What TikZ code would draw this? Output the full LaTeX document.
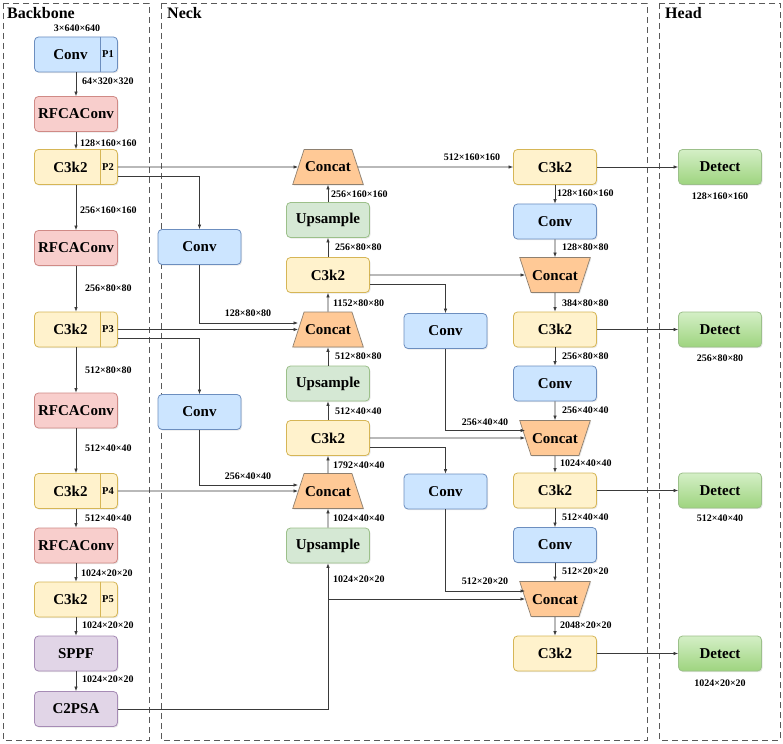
\documentclass[tikz,border=0pt]{standalone}
\usepackage{fontspec}
\setmainfont{Liberation Serif}
\usepackage{tikz}
\usetikzlibrary{arrows.meta,shapes.geometric,shadows}

\definecolor{convfill}{HTML}{CCE5FF}
\definecolor{convline}{HTML}{6C8EBF}
\definecolor{rffill}{HTML}{F8CECC}
\definecolor{rfline}{HTML}{D08A86}
\definecolor{cfill}{HTML}{FFF2CC}
\definecolor{cline}{HTML}{D6B656}
\definecolor{upfill}{HTML}{D5E8D4}
\definecolor{upline}{HTML}{9CC08A}
\definecolor{spfill}{HTML}{E1D5E7}
\definecolor{spline}{HTML}{A68BB5}
\definecolor{catfill}{HTML}{FFC996}
\definecolor{catline}{HTML}{8E8070}
\definecolor{detfill}{HTML}{9ED47F}
\definecolor{detlight}{HTML}{D4EFC6}
\definecolor{wire}{HTML}{3A3A3A}

\begin{document}
\begin{tikzpicture}[x=1pt,y=-1pt,
    shd/.style={drop shadow={shadow xshift=1pt,shadow yshift=-1.2pt,opacity=0.18}},
    blk/.style={shd,rounded corners=4pt,minimum width=83pt,minimum height=35pt,inner sep=0pt,
      line width=0.8pt,font=\fontsize{15}{17}\selectfont\bfseries},
    conv/.style={blk,fill=convfill,draw=convline},
    rfca/.style={blk,fill=rffill,draw=rfline},
    c3/.style={blk,fill=cfill,draw=cline},
    upsm/.style={blk,fill=upfill,draw=upline},
    sppf/.style={blk,fill=spfill,draw=spline},
    det/.style={blk,draw=upline,top color=detlight,bottom color=detfill},
    cat/.style={shd,trapezium,trapezium left angle=72,trapezium right angle=72,
      text height=10pt,text depth=0pt,inner xsep=1pt,inner ysep=12.5pt,
      fill=catfill,draw=catline,line width=0.7pt,font=\fontsize{15}{17}\selectfont\bfseries},
    catinv/.style={cat,trapezium left angle=108,trapezium right angle=108},
    btext/.style={font=\fontsize{15}{17}\selectfont\bfseries,inner sep=0pt},
    ptag/.style={font=\fontsize{10.5}{12}\selectfont\bfseries,inner sep=0pt},
    dim/.style={font=\fontsize{10}{12}\selectfont\bfseries,inner sep=0pt},
    arr/.style={-{Latex[length=4.5pt,width=3.5pt]},draw=wire,line width=0.7pt},
    panel/.style={draw=black!65,dash pattern=on 6pt off 4pt,line width=0.7pt},
    title/.style={font=\fontsize{16}{18}\selectfont\bfseries,anchor=north west,inner sep=0pt}]

  % canvas
  \fill[white] (0,0) rectangle (783,743);
  \useasboundingbox (0,0) rectangle (783,743);

  % panels
  \draw[panel] (3,3) rectangle (149,740);
  \draw[panel] (161,3) rectangle (647,740);
  \draw[panel] (659,3) rectangle (780,740);
  \node[title] (tback) at (7,7) {Backbone};
  \node[title] (tneck) at (167,7) {Neck};
  \node[title] (thead) at (665,7) {Head};

  % backbone
  \node[conv] (conv1) at (76,54.5) {};
  \node[btext] (conv1t) at (70.5,54.5) {Conv};
  \node[ptag] (conv1p) at (108,54.5) {P1};
  \node[rfca] (rfca1) at (76,114) {RFCAConv};
  \node[c3] (c3p2) at (76,167) {};
  \node[btext] (c3p2t) at (70.5,167) {C3k2};
  \node[ptag] (c3p2p) at (108,167) {P2};
  \node[rfca] (rfca2) at (76,248) {RFCAConv};
  \node[c3] (c3p3) at (76,329.5) {};
  \node[btext] (c3p3t) at (70.5,329.5) {C3k2};
  \node[ptag] (c3p3p) at (108,329.5) {P3};
  \node[rfca] (rfca3) at (76,410.5) {RFCAConv};
  \node[c3] (c3p4) at (76,491) {};
  \node[btext] (c3p4t) at (70.5,491) {C3k2};
  \node[ptag] (c3p4p) at (108,491) {P4};
  \node[rfca] (rfca4) at (76,545.5) {RFCAConv};
  \node[c3] (c3p5) at (76,599.5) {};
  \node[btext] (c3p5t) at (70.5,599.5) {C3k2};
  \node[ptag] (c3p5p) at (108,599.5) {P5};
  \node[sppf] (sppf) at (76,653.5) {SPPF};
  \node[sppf] (c2psa) at (76,709) {C2PSA};

  % tag dividers
  \draw[convline,line width=0.8pt] ([xshift=-18pt]conv1.north east) -- ([xshift=-18pt]conv1.south east);
  \foreach \n in {c3p2,c3p3,c3p4,c3p5}
    \draw[cline,line width=0.8pt] ([xshift=-18pt]\n.north east) -- ([xshift=-18pt]\n.south east);

  % neck, middle column
  \node[cat] (cat1) at (328,167) {Concat};
  \node[upsm] (up1) at (328,220) {Upsample};
  \node[c3] (nc1) at (328,275) {C3k2};
  \node[cat] (cat2) at (328,329.5) {Concat};
  \node[upsm] (up2) at (328,383.5) {Upsample};
  \node[c3] (nc2) at (328,438) {C3k2};
  \node[cat] (cat3) at (328,491) {Concat};
  \node[upsm] (up3) at (328,545.5) {Upsample};

  % neck, side convs
  \node[conv] (lconv1) at (199.5,247) {Conv};
  \node[conv] (lconv2) at (199.5,412) {Conv};
  \node[conv] (mconv1) at (445.5,331) {Conv};
  \node[conv] (mconv2) at (445.5,491.5) {Conv};

  % neck, right column
  \node[c3] (rc1) at (555,167) {C3k2};
  \node[conv] (rconv1) at (555,221.5) {Conv};
  \node[catinv] (rcat1) at (555,275) {Concat};
  \node[c3] (rc2) at (555,329.5) {C3k2};
  \node[conv] (rconv2) at (555,383.5) {Conv};
  \node[catinv] (rcat2) at (555,438) {Concat};
  \node[c3] (rc3) at (555,490.5) {C3k2};
  \node[conv] (rconv3) at (555,545) {Conv};
  \node[catinv] (rcat3) at (555,599) {Concat};
  \node[c3] (rc4) at (555,653.5) {C3k2};

  % head
  \node[det] (det1) at (720,167) {Detect};
  \node[det] (det2) at (720,329.5) {Detect};
  \node[det] (det3) at (720,490.5) {Detect};
  \node[det] (det4) at (720,653.5) {Detect};

  % backbone arrows
  \draw[arr] (conv1) -- (rfca1);
  \draw[arr] (rfca1) -- (c3p2);
  \draw[arr] (c3p2) -- (rfca2);
  \draw[arr] (rfca2) -- (c3p3);
  \draw[arr] (c3p3) -- (rfca3);
  \draw[arr] (rfca3) -- (c3p4);
  \draw[arr] (c3p4) -- (rfca4);
  \draw[arr] (rfca4) -- (c3p5);
  \draw[arr] (c3p5) -- (sppf);
  \draw[arr] (sppf) -- (c2psa);

  % backbone to neck
  \draw[arr] (c3p2.east) -- (cat1.west);
  \draw[arr] ([yshift=-9pt]c3p2.east) -| (lconv1.north);
  \draw[arr] (lconv1.south) |- ([yshift=6.5pt]cat2.west);
  \draw[arr] (c3p3.east) -- (cat2.west);
  \draw[arr] ([yshift=-8.5pt]c3p3.east) -| (lconv2.north);
  \draw[arr] (lconv2.south) |- ([yshift=6pt]cat3.west);
  \draw[arr] (c3p4.east) -- (cat3.west);
  \draw[arr] (c2psa.east) -| (up3.south);
  \draw[arr] (up3.south |- rcat3.west) -- (rcat3.west);

  % neck, upward path
  \draw[arr] (up3) -- (cat3);
  \draw[arr] (cat3) -- (nc2);
  \draw[arr] (nc2) -- (up2);
  \draw[arr] (up2) -- (cat2);
  \draw[arr] (cat2) -- (nc1);
  \draw[arr] (nc1) -- (up1);
  \draw[arr] (up1) -- (cat1);

  % neck, across
  \draw[arr] (cat1.east) -- (rc1.west);
  \draw[arr] (nc1.east) -- (rcat1.west);
  \draw[arr] ([yshift=-9pt]nc1.east) -| (mconv1.north);
  \draw[arr] (mconv1.south) |- ([yshift=7.5pt]rcat2.west);
  \draw[arr] (nc2.east) -- (rcat2.west);
  \draw[arr] ([yshift=-9pt]nc2.east) -| (mconv2.north);
  \draw[arr] (mconv2.south) |- ([yshift=8pt]rcat3.west);

  % neck, downward path
  \draw[arr] (rc1) -- (rconv1);
  \draw[arr] (rconv1) -- (rcat1);
  \draw[arr] (rcat1) -- (rc2);
  \draw[arr] (rc2) -- (rconv2);
  \draw[arr] (rconv2) -- (rcat2);
  \draw[arr] (rcat2) -- (rc3);
  \draw[arr] (rc3) -- (rconv3);
  \draw[arr] (rconv3) -- (rcat3);
  \draw[arr] (rcat3) -- (rc4);

  % to head
  \draw[arr] (rc1) -- (det1);
  \draw[arr] (rc2) -- (det2);
  \draw[arr] (rc3) -- (det3);
  \draw[arr] (rc4) -- (det4);

  % sizes, backbone
  \node[dim] (s0) at (77,28) {3×640×640};
  \node[dim,anchor=west] (s1) at (82,81) {64×320×320};
  \node[dim,anchor=west] (s2) at (80,143) {128×160×160};
  \node[dim,anchor=west] (s3) at (80,210) {256×160×160};
  \node[dim,anchor=west] (s4) at (85,288) {256×80×80};
  \node[dim,anchor=west] (s5) at (85,370) {512×80×80};
  \node[dim,anchor=west] (s6) at (85,448) {512×40×40};
  \node[dim,anchor=west] (s7) at (85,518) {512×40×40};
  \node[dim,anchor=west] (s8) at (81,573) {1024×20×20};
  \node[dim,anchor=west] (s9) at (82,625) {1024×20×20};
  \node[dim,anchor=west] (s10) at (82,679) {1024×20×20};

  % sizes, neck
  \node[dim,anchor=west] (n1) at (331,194) {256×160×160};
  \node[dim,anchor=west] (n2) at (335,247) {256×80×80};
  \node[dim,anchor=west] (n3) at (333,303) {1152×80×80};
  \node[dim] (n4) at (248,313) {128×80×80};
  \node[dim,anchor=west] (n5) at (335,356) {512×80×80};
  \node[dim,anchor=west] (n6) at (335,411) {512×40×40};
  \node[dim,anchor=west] (n7) at (333,465) {1792×40×40};
  \node[dim] (n8) at (248,476) {256×40×40};
  \node[dim,anchor=west] (n9) at (333,518) {1024×40×40};
  \node[dim,anchor=west] (n10) at (333,579) {1024×20×20};
  \node[dim] (n11) at (472,157) {512×160×160};
  \node[dim,anchor=west] (n12) at (557,193) {128×160×160};
  \node[dim,anchor=west] (n13) at (562,247) {128×80×80};
  \node[dim,anchor=west] (n14) at (562,303) {384×80×80};
  \node[dim,anchor=west] (n15) at (562,356) {256×80×80};
  \node[dim,anchor=west] (n16) at (562,410) {256×40×40};
  \node[dim] (n17) at (485,422) {256×40×40};
  \node[dim,anchor=west] (n18) at (560,463) {1024×40×40};
  \node[dim,anchor=west] (n19) at (562,517) {512×40×40};
  \node[dim,anchor=west] (n20) at (562,571) {512×20×20};
  \node[dim] (n21) at (485,581) {512×20×20};
  \node[dim,anchor=west] (n22) at (560,625) {2048×20×20};

  % sizes, head
  \node[dim] (h1) at (720,196) {128×160×160};
  \node[dim] (h2) at (720,358) {256×80×80};
  \node[dim] (h3) at (720,518) {512×40×40};
  \node[dim] (h4) at (720,683) {1024×20×20};
\end{tikzpicture}
\end{document}
